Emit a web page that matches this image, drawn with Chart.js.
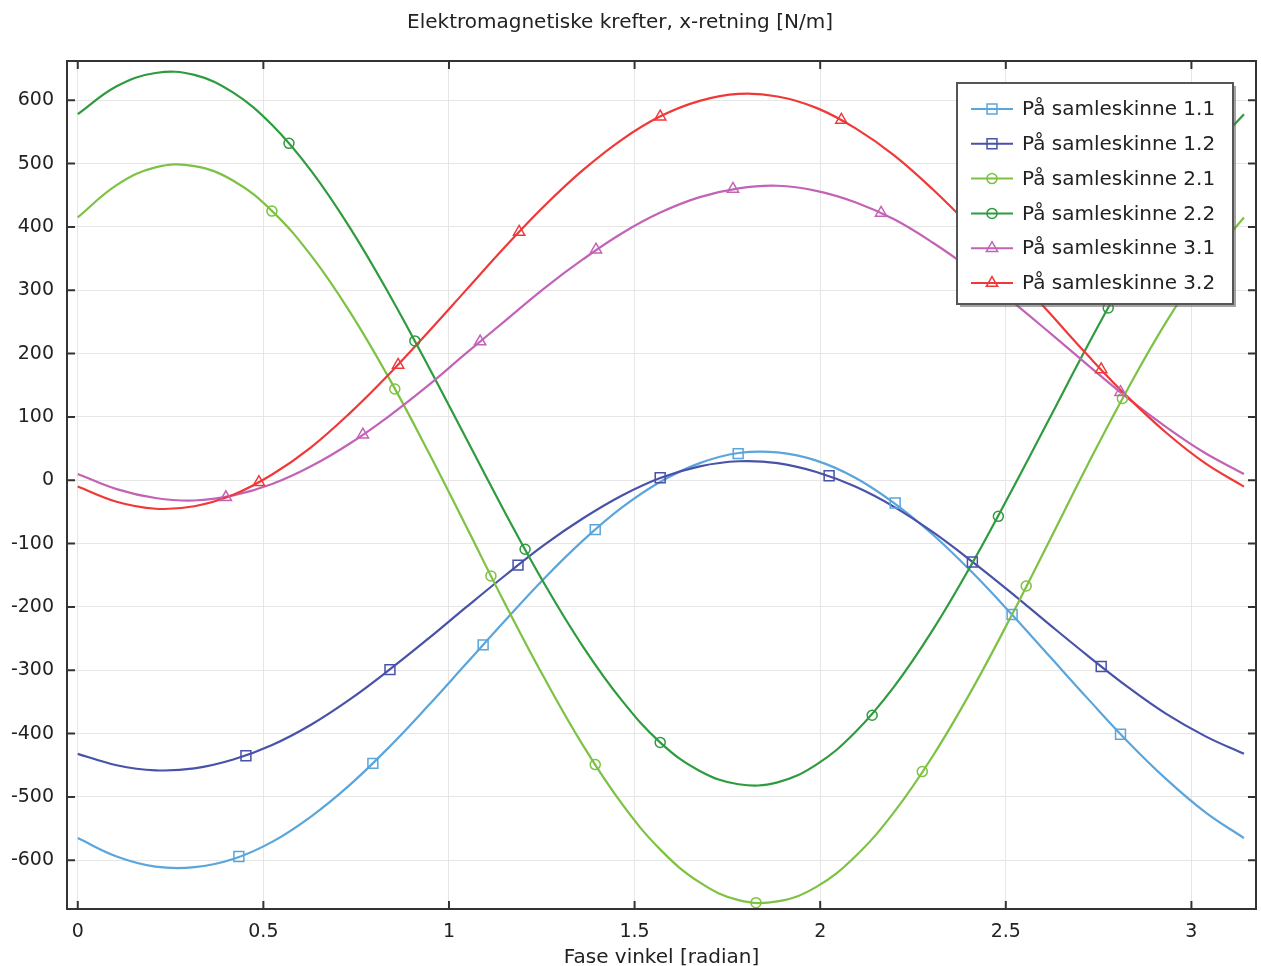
<!DOCTYPE html>
<html lang="no">
<head>
    <meta charset="UTF-8">
    <title>Elektromagnetiske krefter, x-retning</title>
    <script src="https://cdn.jsdelivr.net/npm/chart.js"></script>
    <style>
        body { margin: 0; background: #fff; }
    </style>
</head>
<body>
    <canvas id="forceChart" width="1261" height="966"></canvas>

    <script>
        // fasevinkel (radian), sampling av kurvene
        const phase = [0, 0.1047, 0.2094, 0.3142, 0.4189, 0.5236, 0.6283, 0.7330, 0.8378, 0.9425,
            1.0472, 1.1519, 1.2566, 1.3614, 1.4661, 1.5708, 1.6755, 1.7802, 1.8850, 1.9897,
            2.0944, 2.1991, 2.3038, 2.4086, 2.5133, 2.6180, 2.7227, 2.8274, 2.9322, 3.0369, 3.1416];

        const bar11 = [-565, -594, -610, -611, -598, -571, -531, -481, -422, -357, -289, -221, -155, -95, -43, -2,
            27, 43, 44, 31, 4, -36, -86, -145, -210, -278, -346, -412, -472, -524, -565];
        const bar12 = [-432, -450, -458, -455, -441, -418, -386, -346, -300, -251, -200, -150, -102, -60, -24, 4,
            22, 30, 27, 13, -10, -42, -82, -128, -177, -228, -278, -326, -369, -404, -432];
        const bar21 = [415, 466, 494, 496, 473, 425, 355, 266, 162, 47, -74, -196, -312, -419, -511, -584,
            -635, -663, -665, -642, -594, -524, -435, -331, -216, -95, 27, 143, 250, 342, 415];
        const bar22 = [578, 622, 643, 640, 612, 561, 489, 399, 295, 182, 65, -52, -163, -263, -348, -415,
            -459, -480, -477, -449, -398, -326, -236, -132, -19, 98, 215, 326, 426, 511, 578];
        const bar31 = [10, -14, -28, -32, -24, -6, 22, 58, 101, 149, 201, 252, 303, 349, 390, 423,
            447, 461, 465, 457, 439, 412, 375, 332, 284, 233, 181, 130, 84, 43, 10];
        const bar32 = [-10, -34, -45, -41, -23, 9, 52, 106, 167, 233, 301, 369, 433, 490, 538, 575,
            599, 610, 606, 588, 556, 513, 459, 398, 332, 264, 196, 132, 75, 27, -10];

        // markørposisjoner langs kurvene
        const mark11x = [0.434, 0.795, 1.092, 1.394, 1.779, 2.202, 2.517, 2.809];
        const mark11y = [-594, -447, -260, -78, 42, -36, -212, -401];
        const mark12x = [0.453, 0.841, 1.186, 1.569, 2.024, 2.410, 2.757];
        const mark12y = [-435, -299, -134, 4, 7, -129, -294];
        const mark21x = [0.523, 0.854, 1.113, 1.394, 1.827, 2.275, 2.555, 2.814];
        const mark21y = [425, 144, -151, -449, -667, -460, -167, 129];
        const mark22x = [0.569, 0.908, 1.205, 1.569, 2.140, 2.480, 2.776];
        const mark22y = [532, 220, -109, -414, -371, -57, 272];
        const mark31x = [0.399, 0.768, 1.084, 1.396, 1.765, 2.164, 2.809];
        const mark31y = [-27, 72, 219, 364, 460, 422, 139];
        const mark32x = [0.488, 0.863, 1.189, 1.569, 2.057, 2.757];
        const mark32y = [-3, 182, 392, 574, 569, 175];

        const seriesNames = ['På samleskinne 1.1', 'På samleskinne 1.2', 'På samleskinne 2.1',
            'På samleskinne 2.2', 'På samleskinne 3.1', 'På samleskinne 3.2'];

        const xTicks = [0, 0.5, 1, 1.5, 2, 2.5, 3];
        const xTickLabels = ['0', '0.5', '1', '1.5', '2', '2.5', '3'];
        const yTicks = [-600, -500, -400, -300, -200, -100, 0, 100, 200, 300, 400, 500, 600];

        const series = [
            { name: seriesNames[0], y: bar11, mx: mark11x, my: mark11y, color: '#5aa5dc', style: 'rect' },
            { name: seriesNames[1], y: bar12, mx: mark12x, my: mark12y, color: '#4852a8', style: 'rect' },
            { name: seriesNames[2], y: bar21, mx: mark21x, my: mark21y, color: '#7dc242', style: 'circle' },
            { name: seriesNames[3], y: bar22, mx: mark22x, my: mark22y, color: '#2e9b3e', style: 'circle' },
            { name: seriesNames[4], y: bar31, mx: mark31x, my: mark31y, color: '#c263b6', style: 'triangle' },
            { name: seriesNames[5], y: bar32, mx: mark32x, my: mark32y, color: '#f03838', style: 'triangle' }
        ];

        const FONT = 'DejaVu Sans';
        Chart.defaults.font.family = FONT;
        Chart.defaults.color = '#222';

        const markerRadius = { rect: 7, circle: 5, triangle: 6.5 };

        const datasets = [];
        series.forEach((s, i) => {
            datasets.push({
                label: s.name,
                data: phase.map((x, j) => ({ x: x, y: s.y[j] })),
                showLine: true,
                borderColor: s.color,
                borderWidth: 2.2,
                pointRadius: 0,
                tension: 0.4,
                order: 20 - i
            });
            datasets.push({
                label: s.name + ' markør',
                data: s.mx.map((x, j) => ({ x: x, y: s.my[j] })),
                showLine: false,
                pointStyle: s.style,
                pointRadius: markerRadius[s.style],
                pointBorderWidth: 1.5,
                pointBorderColor: s.color,
                pointBackgroundColor: 'rgba(0,0,0,0)',
                order: 10 - i
            });
        });

        // tittel, ramme med innovervendte tikker
        const framePlugin = {
            id: 'frame',
            afterDatasetsDraw(chart) {
                const { ctx, chartArea: a, scales } = chart;
                ctx.save();
                ctx.strokeStyle = '#333';
                ctx.lineWidth = 2;
                ctx.beginPath();
                xTicks.forEach(v => {
                    const px = scales.x.getPixelForValue(v);
                    ctx.moveTo(px, a.bottom); ctx.lineTo(px, a.bottom - 8);
                    ctx.moveTo(px, a.top); ctx.lineTo(px, a.top + 8);
                });
                yTicks.forEach(v => {
                    const py = scales.y.getPixelForValue(v);
                    ctx.moveTo(a.left, py); ctx.lineTo(a.left + 8, py);
                    ctx.moveTo(a.right, py); ctx.lineTo(a.right - 8, py);
                });
                ctx.stroke();
                ctx.strokeRect(a.left, a.top, a.right - a.left, a.bottom - a.top);

                ctx.fillStyle = '#222';
                ctx.font = '20px "' + FONT + '"';
                ctx.textAlign = 'center';
                ctx.textBaseline = 'middle';
                ctx.fillText('Elektromagnetiske krefter, x-retning [N/m]', 620, 23);
                ctx.restore();
            }
        };

        function drawMarker(ctx, style, x, y, r) {
            ctx.beginPath();
            if (style === 'rect') {
                const h = r * Math.SQRT1_2;
                ctx.rect(x - h, y - h, 2 * h, 2 * h);
            } else if (style === 'circle') {
                ctx.arc(x, y, r, 0, Math.PI * 2);
            } else {
                ctx.moveTo(x, y - r);
                ctx.lineTo(x + r * 0.866, y + r * 0.5);
                ctx.lineTo(x - r * 0.866, y + r * 0.5);
                ctx.closePath();
            }
            ctx.stroke();
        }

        // forklaring inne i plottet
        const legendPlugin = {
            id: 'boxLegend',
            afterDraw(chart) {
                const ctx = chart.ctx;
                const bx = 957, by = 83, bw = 276, bh = 221;
                ctx.save();
                ctx.fillStyle = 'rgba(90,90,90,0.55)';
                ctx.fillRect(bx + 3, by + 3, bw, bh);
                ctx.fillStyle = '#fff';
                ctx.fillRect(bx, by, bw, bh);
                ctx.strokeStyle = '#555';
                ctx.lineWidth = 2;
                ctx.strokeRect(bx, by, bw, bh);
                ctx.font = '20px "' + FONT + '"';
                ctx.textBaseline = 'middle';
                ctx.textAlign = 'left';
                series.forEach((s, i) => {
                    const yy = 109 + i * 34.8;
                    ctx.strokeStyle = s.color;
                    ctx.lineWidth = 2;
                    ctx.beginPath();
                    ctx.moveTo(971, yy); ctx.lineTo(1013, yy);
                    ctx.stroke();
                    ctx.lineWidth = 1.5;
                    drawMarker(ctx, s.style, 992, yy, markerRadius[s.style]);
                    ctx.fillStyle = '#222';
                    ctx.fillText(s.name, 1022, yy + 1);
                });
                ctx.restore();
            }
        };

        const ctx = document.getElementById('forceChart').getContext('2d');
        const forceChart = new Chart(ctx, {
            type: 'scatter',
            data: { datasets: datasets },
            options: {
                responsive: false,
                animation: false,
                layout: {
                    autoPadding: false,
                    padding: { left: 0, right: 5, top: 61, bottom: 0 }
                },
                plugins: {
                    legend: { display: false },
                    tooltip: { enabled: false },
                    title: { display: false }
                },
                scales: {
                    x: {
                        type: 'linear',
                        min: -0.029,
                        max: 3.174,
                        afterBuildTicks: scale => { scale.ticks = xTicks.map(v => ({ value: v })); },
                        afterFit: scale => {
                            scale.height = 57;
                            scale.paddingLeft = 0;
                            scale.paddingRight = 0;
                        },
                        ticks: {
                            font: { size: 19 },
                            color: '#222',
                            padding: 12,
                            maxRotation: 0,
                            callback: (v) => xTickLabels[xTicks.indexOf(v)]
                        },
                        grid: { color: '#e6e6e6', lineWidth: 1, drawTicks: false },
                        border: { display: false },
                        title: {
                            display: true,
                            text: 'Fase vinkel [radian]',
                            font: { size: 20, lineHeight: 0.85 },
                            color: '#222',
                            padding: { top: 0, bottom: 0 }
                        }
                    },
                    y: {
                        type: 'linear',
                        min: -677,
                        max: 662,
                        afterBuildTicks: scale => { scale.ticks = yTicks.map(v => ({ value: v })); },
                        afterFit: scale => { scale.width = 67; },
                        ticks: {
                            font: { size: 19 },
                            color: '#222',
                            padding: 13,
                            callback: (v) => String(v)
                        },
                        grid: { color: '#e6e6e6', lineWidth: 1, drawTicks: false },
                        border: { display: false }
                    }
                }
            },
            plugins: [framePlugin, legendPlugin]
        });
    </script>
</body>
</html>
